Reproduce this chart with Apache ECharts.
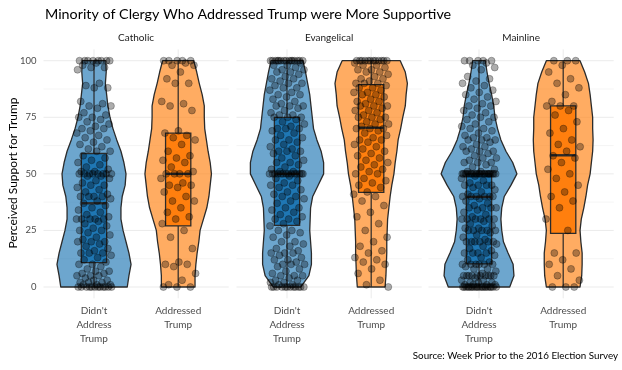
<!DOCTYPE html>
<html><head><meta charset="utf-8">
<script src="https://cdn.jsdelivr.net/npm/echarts@6/dist/echarts.min.js"></script>
<style>html,body{margin:0;padding:0;background:#fff}#c{width:622px;height:370px}</style>
</head><body><div id="c"></div>
<script>
// ---------- data ----------
const facets = ['Catholic', 'Evangelical', 'Mainline'];
const groups = ["Didn't\nAddress\nTrump", "Addressed\nTrump"];
const yTicks = [0, 25, 50, 75, 100];
const gridValues = [0, 12.5, 25, 37.5, 50, 62.5, 75, 87.5, 100];
const violinY = [0,5,10,15,20,25,30,35,40,45,50,55,60,65,70,75,80,85,90,95,100];

// relative violin half-widths at violinY
const catholicDidntWidth = [0.79,0.83,0.88,0.83,0.76,0.69,0.64,0.64,0.67,0.74,0.76,0.71,0.64,0.54,0.45,0.38,0.33,0.30,0.27,0.29,0.28];
const catholicAddrWidth  = [0.40,0.40,0.42,0.45,0.49,0.52,0.60,0.68,0.73,0.76,0.79,0.76,0.71,0.67,0.63,0.62,0.62,0.57,0.50,0.44,0.37];
const evangDidntWidth    = [0.33,0.52,0.58,0.58,0.56,0.54,0.55,0.56,0.61,0.74,0.87,0.87,0.81,0.71,0.63,0.60,0.57,0.54,0.49,0.44,0.38];
const evangAddrWidth     = [0.33,0.35,0.36,0.37,0.37,0.38,0.39,0.42,0.45,0.49,0.54,0.57,0.61,0.64,0.70,0.75,0.81,0.83,0.86,0.81,0.69];
const mainDidntWidth     = [0.73,0.83,0.81,0.69,0.58,0.54,0.52,0.54,0.60,0.76,0.90,0.80,0.64,0.52,0.44,0.38,0.35,0.30,0.24,0.19,0.15];
const mainAddrWidth      = [0.40,0.44,0.45,0.45,0.42,0.40,0.43,0.49,0.54,0.58,0.64,0.67,0.70,0.71,0.70,0.70,0.67,0.64,0.60,0.51,0.40];

// boxplot stats: [min, q1, median, q3, max]
const catholicDidntBox = [0, 10.75, 37, 59, 100];
const catholicAddrBox  = [0, 27, 50, 68, 100];
const evangDidntBox    = [0, 27.2, 50, 75, 100];
const evangAddrBox     = [0, 41.8, 70.4, 89.4, 100];
const mainDidntBox     = [0, 10.2, 39.8, 50, 100];
const mainAddrBox      = [0, 23.7, 58.2, 80, 100];

// individual responses
const catholicDidntPts = [100,100,100,100,100,100,100,100,99,98,97,97,96,90,89,88,88,82,81,80,80,79,77,76,75,75,74,73,72,71,70,70,69,68,67,66,65,64,63,62,61,60,60,58,57,56,55,54,53,52,51,51,50,50,50,50,50,50,50,50,49,49,48,47,46,45,45,44,43,42,41,40,40,40,40,39,38,37,36,35,34,33,32,31,30,30,30,30,30,29,28,27,26,25,25,24,23,22,21,20,20,20,19,18,17,16,15,15,15,14,13,12,11,10,10,9,8,7,7,6,6,5,5,5,4,3,3,2,2,2,1,1,1,0,0,0,0,0,0,0,0,0,0,0,0];
const catholicAddrPts = [100,100,100,100,100,99,98,98,95,92,90,90,82,81,80,78,69,68,67,66,65,63,60,58,57,56,55,53,51,50,50,50,50,48,46,45,45,44,42,40,38,38,35,33,31,30,28,25,22,17,11,10,10,9,6,3,1,0,0,0];
const evangDidntPts = [100,100,100,100,100,100,100,100,100,100,100,100,100,100,100,99,98,98,97,96,96,95,95,94,93,92,92,91,90,90,89,88,88,87,86,85,85,84,83,82,81,80,80,80,79,78,77,76,76,75,75,75,74,73,72,71,70,70,70,69,68,67,66,65,65,64,63,62,61,60,60,60,59,58,57,56,55,55,54,53,52,51,51,50,50,50,50,50,50,50,50,50,50,50,50,50,50,49,48,47,46,45,45,44,43,42,41,40,40,39,38,37,35,35,34,33,32,31,30,30,29,28,27,25,25,24,23,22,20,20,19,18,17,16,15,15,15,14,13,12,12,11,10,10,10,9,8,7,6,5,5,5,4,3,3,2,2,1,1,0,0,0,0,0,0,0,0,0,0,0,0];
const evangAddrPts = [100,100,100,100,100,100,100,100,100,100,100,100,99,98,98,97,96,96,95,95,94,93,92,92,91,90,90,90,89,88,88,87,86,86,85,85,84,83,82,82,81,80,80,80,79,78,78,77,76,75,75,75,74,73,72,72,71,70,70,70,69,68,67,66,65,65,64,63,62,61,60,59,58,57,56,55,54,53,52,51,50,50,48,47,46,45,44,42,41,40,38,36,33,31,28,25,22,20,18,16,15,13,12,11,10,8,6,3,1,0];
const mainDidntPts = [100,100,100,100,100,99,98,97,96,93,92,91,90,89,88,87,86,85,84,83,82,81,80,80,79,78,77,76,75,75,74,73,72,71,70,70,69,68,67,66,66,65,65,65,64,63,62,62,61,60,60,60,59,58,57,57,56,55,55,55,54,53,52,51,51,50,50,50,50,50,50,50,50,50,50,50,50,50,50,50,50,50,50,50,50,50,50,49,48,47,46,45,45,45,45,44,43,42,41,40,40,40,40,40,40,39,38,37,36,35,35,35,35,34,33,32,31,30,30,30,30,30,30,29,28,27,26,26,25,25,25,25,25,24,23,22,21,20,20,20,20,20,20,19,18,17,16,15,15,15,15,14,13,12,11,10,10,10,10,10,10,9,8,8,7,6,5,5,5,5,5,5,5,5,5,5,4,3,3,2,2,2,1,1,1,1,0,0,0,0,0,0,0,0,0,0,0,0,0,0,0,0,0,0,0,0];
const mainAddrPts = [100,100,100,98,95,92,90,88,85,82,80,80,80,78,76,73,70,68,65,63,62,60,58,57,55,52,50,48,45,42,40,38,35,30,25,15,15,12,10,8,5,3,0,0,0];

// ---------- presentation ----------
const FONT = 'Lato, "Noto Sans", sans-serif';
const panels = [
  {widths:[catholicDidntWidth, catholicAddrWidth], boxes:[catholicDidntBox, catholicAddrBox], pts:[catholicDidntPts, catholicAddrPts]},
  {widths:[evangDidntWidth, evangAddrWidth], boxes:[evangDidntBox, evangAddrBox], pts:[evangDidntPts, evangAddrPts]},
  {widths:[mainDidntWidth, mainAddrWidth], boxes:[mainDidntBox, mainAddrBox], pts:[mainDidntPts, mainAddrPts]}
];
const panelLefts = [43.5, 236.5, 428.5];
const PW = 185.2, PT = 49.4, PH = 248.9;
const violinFill = ['rgba(31,119,180,0.65)', 'rgba(255,127,14,0.65)'];
const boxFill = ['#1f77b4', '#ff7f0e'];
const OUT = '#2b2b2b';

function jitter(i) { return (((i + 1) * 0.6180339887) % 1 - 0.5) * 0.42; }

const grid = [], xAxis = [], yAxis = [], series = [], graphic = [];
panels.forEach((p, i) => {
  grid.push({left: panelLefts[i], top: PT, width: PW, height: PH, containLabel: false});
  xAxis.push({gridIndex: i, type: 'value', min: 0.4, max: 2.6,
    axisLine: {show: false}, axisTick: {show: false}, splitLine: {show: false},
    axisLabel: {customValues: [1, 2], formatter: v => groups[Math.round(v) - 1],
      color: '#4d4d4d', fontSize: 10, lineHeight: 14, margin: 5, fontFamily: FONT}});
  yAxis.push({gridIndex: i, type: 'value', min: -5, max: 105,
    axisLine: {show: false}, axisTick: {show: false}, splitLine: {show: false},
    axisLabel: i === 0 ? {customValues: yTicks, color: '#4d4d4d', fontSize: 9.5, margin: 7, fontFamily: FONT} : {show: false}});
  // grid lines
  series.push({type: 'custom', xAxisIndex: i, yAxisIndex: i, silent: true, clip: false, z: 0,
    data: gridValues.map(v => [v]),
    renderItem: (params, api) => {
      const v = api.value(0);
      const a = api.coord([0.4, v]), b = api.coord([2.6, v]);
      const major = v % 25 === 0;
      return {type: 'line', shape: {x1: a[0], y1: a[1], x2: b[0], y2: b[1]},
        style: {stroke: major ? '#ebebeb' : '#f2f2f2', lineWidth: major ? 1 : 0.8}};
    }});
  series.push({type: 'custom', xAxisIndex: i, yAxisIndex: i, silent: true, clip: false, z: 0,
    data: [[1], [2]],
    renderItem: (params, api) => {
      const c = api.value(0);
      const a = api.coord([c, -5]), b = api.coord([c, 105]);
      return {type: 'line', shape: {x1: a[0], y1: a[1], x2: b[0], y2: b[1]},
        style: {stroke: '#ebebeb', lineWidth: 1}};
    }});
  // violins
  series.push({type: 'custom', xAxisIndex: i, yAxisIndex: i, silent: true, clip: false, z: 1,
    data: [[1], [2]],
    renderItem: (params, api) => {
      const gi = params.dataIndex, c = api.value(0), w = p.widths[gi];
      const right = [], left = [];
      for (let k = 0; k < violinY.length; k++) {
        right.push(api.coord([c + w[k] * 0.5, violinY[k]]));
        left.push(api.coord([c - w[k] * 0.5, violinY[k]]));
      }
      return {type: 'polygon', shape: {points: right.concat(left.reverse())},
        style: {fill: violinFill[gi], stroke: OUT, lineWidth: 1.3, lineJoin: 'round'}};
    }});
  // boxes
  series.push({type: 'custom', xAxisIndex: i, yAxisIndex: i, silent: true, clip: false, z: 2,
    data: [[1], [2]],
    renderItem: (params, api) => {
      const gi = params.dataIndex, c = api.value(0), b = p.boxes[gi];
      const p1 = api.coord([c - 0.15, b[3]]), p2 = api.coord([c + 0.15, b[1]]);
      const m1 = api.coord([c - 0.15, b[2]]), m2 = api.coord([c + 0.15, b[2]]);
      const wTop = api.coord([c, b[4]]), wQ3 = api.coord([c, b[3]]);
      const wQ1 = api.coord([c, b[1]]), wBot = api.coord([c, b[0]]);
      return {type: 'group', children: [
        {type: 'line', shape: {x1: wTop[0], y1: wTop[1], x2: wQ3[0], y2: wQ3[1]}, style: {stroke: OUT, lineWidth: 1.2}},
        {type: 'line', shape: {x1: wQ1[0], y1: wQ1[1], x2: wBot[0], y2: wBot[1]}, style: {stroke: OUT, lineWidth: 1.2}},
        {type: 'rect', shape: {x: p1[0], y: p1[1], width: p2[0] - p1[0], height: p2[1] - p1[1]},
          style: {fill: boxFill[gi], stroke: OUT, lineWidth: 1.3}},
        {type: 'line', shape: {x1: m1[0], y1: m1[1], x2: m2[0], y2: m2[1]}, style: {stroke: OUT, lineWidth: 2.4}}
      ]};
    }});
  // points
  p.pts.forEach((arr, gi) => {
    series.push({type: 'scatter', xAxisIndex: i, yAxisIndex: i, silent: true, z: 3,
      symbolSize: 7,
      itemStyle: {color: 'rgba(0,0,0,0.32)', borderColor: 'rgba(0,0,0,0.45)', borderWidth: 0.6, opacity: 1},
      data: arr.map((v, k) => [gi + 1 + jitter(k), v])});
  });
  graphic.push({type: 'text', x: panelLefts[i] + PW / 2, y: 38,
    style: {text: facets[i], fontSize: 10, fill: '#1a1a1a', align: 'center', verticalAlign: 'middle', fontFamily: FONT}});
});

graphic.push({type: 'text', x: 45, y: 14,
  style: {text: 'Minority of Clergy Who Addressed Trump were More Supportive', fontSize: 14.3, fill: '#000',
    align: 'left', verticalAlign: 'middle', fontFamily: FONT}});
graphic.push({type: 'text', x: 13, y: 173, rotation: Math.PI / 2,
  style: {text: 'Perceived Support for Trump', fontSize: 12, fill: '#000',
    align: 'center', verticalAlign: 'middle', fontFamily: FONT}});
graphic.push({type: 'text', x: 618, y: 356,
  style: {text: 'Source: Week Prior to the 2016 Election Survey', fontSize: 9.8, fill: '#000',
    align: 'right', verticalAlign: 'middle', fontFamily: FONT}});

const chart = echarts.init(document.getElementById('c'), null, {renderer: 'canvas'});
chart.setOption({animation: false, backgroundColor: '#fff', grid, xAxis, yAxis, series, graphic});
</script>
</body></html>
